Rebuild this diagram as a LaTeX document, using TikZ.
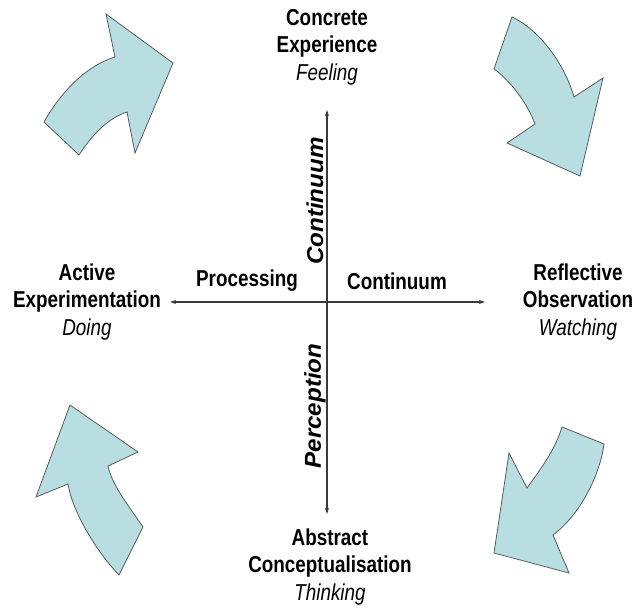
\documentclass[tikz,border=0pt]{standalone}
\usepackage{fontspec}
\setmainfont[FakeStretch=0.82]{Liberation Sans}
\newfontfamily\uprightaxisfont[FakeStretch=1.05]{Liberation Sans}
\usetikzlibrary{arrows.meta}
\definecolor{arrowblue}{HTML}{B8DEE2}
\definecolor{arrowline}{HTML}{555B5C}
\definecolor{axisgrey}{HTML}{3A3A3A}
\tikzset{
	blockarrow/.style={fill=arrowblue,draw=arrowline,line width=.8pt,line join=miter},
	axisline/.style={draw=axisgrey,line width=1.1pt,{Stealth[length=6pt,width=4pt]}-{Stealth[length=6pt,width=4pt]}},
	stage/.style={align=center,font=\fontsize{23}{27.5}\selectfont},
	dimlabel/.style={font=\fontsize{23}{27.5}\selectfont\bfseries},
	vdimlabel/.style={rotate=90,font=\uprightaxisfont\fontsize{23}{27.5}\selectfont\bfseries\itshape},
}
\begin{document}
\begin{tikzpicture}[x=1pt,y=-1pt]
	\useasboundingbox (0,0) rectangle (637,612);
	% curved arrows round the cycle
	\draw[blockarrow] (44,122) .. controls (62,90) and (88,65) .. (115,57) -- (106,14) -- (173,63) -- (135,153) -- (127,112) .. controls (108,118) and (92,135) .. (79,155) -- cycle;
	\draw[blockarrow] (512,17) .. controls (540,30) and (565,65) .. (574,97) -- (603,78) -- (580,176) -- (507,143) -- (535,124) .. controls (528,105) and (512,82) .. (494,69) -- cycle;
	\draw[blockarrow] (562,427) -- (604,444) .. controls (600,475) and (580,515) .. (553,535) -- (569,573) -- (494,553) -- (509,453) -- (527,488) .. controls (540,470) and (555,450) .. (562,427) -- cycle;
	\draw[blockarrow] (119,575) -- (143,527) .. controls (128,505) and (112,485) .. (108,466) -- (138,452) -- (70,405) -- (36,497) -- (68,484) .. controls (72,510) and (95,550) .. (119,575) -- cycle;
	% the four stages
	\node[stage] (ce) at (327,47) {\textbf{Concrete}\\\textbf{Experience}\\\textit{Feeling}};
	\node[stage] (ro) at (578,302) {\textbf{Reflective}\\\textbf{Observation}\\\textit{Watching}};
	\node[stage] (ac) at (330,567) {\textbf{Abstract}\\\textbf{Conceptualisation}\\\textit{Thinking}};
	\node[stage] (ae) at (87,302) {\textbf{Active}\\\textbf{Experimentation}\\\textit{Doing}};
	% axes
	\coordinate (top) at (327,110);
	\coordinate (bottom) at (327,514);
	\coordinate (left) at (170,302);
	\coordinate (right) at (485,302);
	\draw[axisline] (top) -- (bottom);
	\draw[axisline] (left) -- (right);
	\node[dimlabel] (proc) at (247,281) {Processing};
	\node[dimlabel] (cont) at (397,281) {Continuum};
	\node[vdimlabel] (contv) at (315,201) {Continuum};
	\node[vdimlabel] (perc) at (315,406) {Perception};
\end{tikzpicture}
\end{document}
